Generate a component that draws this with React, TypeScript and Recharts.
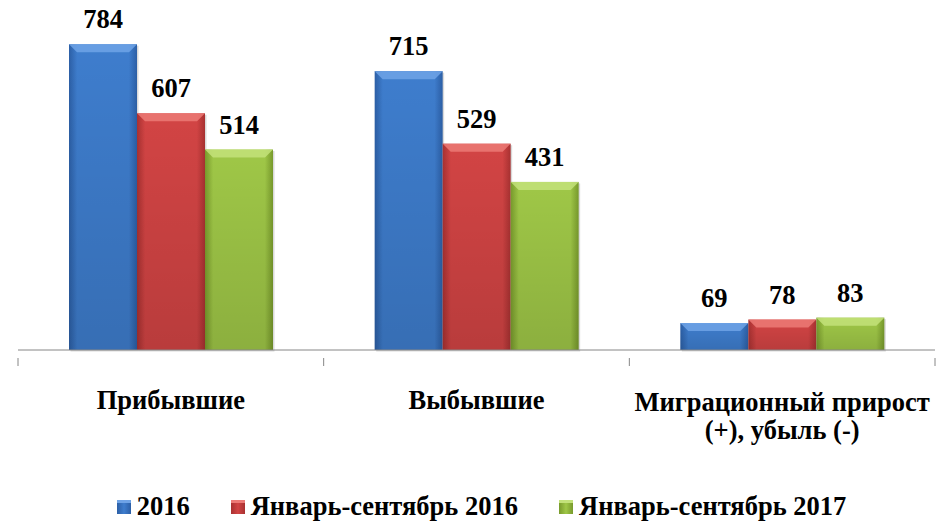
import React from 'react';
import { BarChart, Bar, XAxis, YAxis, Legend, LabelList } from 'recharts';

const categories = ['Прибывшие', 'Выбывшие', 'Миграционный прирост\n(+), убыль (-)'];
const series2016 = [784, 715, 69];
const seriesJanSep2016 = [607, 529, 78];
const seriesJanSep2017 = [514, 431, 83];
const seriesNames = ['2016', 'Январь-сентябрь 2016', 'Январь-сентябрь 2017'];

const data = categories.map((name, i) => ({
  name,
  a: series2016[i],
  b: seriesJanSep2016[i],
  c: seriesJanSep2017[i],
}));

const FONT = 'Liberation Serif, Times New Roman, serif';
const FS = 26.5;

const palette = [
  { id: 'gBlue', edge: '#2c5fa6', mid: '#3e7dcd', light: '#6ea3e6' },
  { id: 'gRed', edge: '#a83131', mid: '#d24444', light: '#ec7a76' },
  { id: 'gGreen', edge: '#789a2c', mid: '#9fc747', light: '#c3e27a' },
];

const makeShape = (p: typeof palette[number]) => (props: any) => {
  const { x, y, width, height } = props;
  if (!height || height <= 0) return <g />;
  const bevel = Math.min(8, height / 3);
  return (
    <g>
      <rect x={x + 1.5} y={y + 1.5} width={width} height={height} fill="rgba(0,0,0,0.15)" />
      <rect x={x} y={y} width={width} height={height} fill={`url(#${p.id})`} />
      <rect x={x} y={y} width={width} height={height} fill="url(#gShade)" />
      <polygon
        points={`${x},${y} ${x + width},${y} ${x + width - bevel},${y + bevel} ${x + bevel},${y + bevel}`}
        fill={p.light}
        opacity={0.85}
      />
    </g>
  );
};

// category label + tick marks at the category boundaries
const CategoryTick = (props: any) => {
  const { x, y, payload, width, visibleTicksCount, index } = props;
  const band = width / visibleTicksCount;
  const lines = String(payload.value).split('\n');
  return (
    <g>
      <line x1={x - band / 2} y1={y} x2={x - band / 2} y2={y + 8} stroke="#868686" />
      {index === visibleTicksCount - 1 && (
        <line x1={x + band / 2} y1={y} x2={x + band / 2} y2={y + 8} stroke="#868686" />
      )}
      <text x={x} y={y + (lines.length > 1 ? 53 : 51)} textAnchor="middle" fontFamily={FONT} fontWeight="bold" fontSize={FS} fill="#000">
        {lines.map((l, i) => (
          <tspan key={i} x={x} dy={i === 0 ? 0 : 28}>
            {l}
          </tspan>
        ))}
      </text>
    </g>
  );
};

const LegendContent = (props: any) => {
  const { payload } = props;
  return (
    <div
      style={{
        display: 'flex',
        justifyContent: 'center',
        gap: 41,
        fontFamily: FONT,
        fontWeight: 'bold',
        fontSize: FS,
        paddingLeft: 10,
        color: '#000',
      }}
    >
      {payload.map((entry: any, i: number) => (
        <div key={i} style={{ display: 'flex', alignItems: 'center', gap: 6 }}>
          <span
            style={{
              width: 14,
              height: 14,
              display: 'inline-block',
              background: `linear-gradient(90deg, ${palette[i].edge}, ${palette[i].mid} 50%, ${palette[i].edge})`,
              boxShadow: `inset 0 3px 0 ${palette[i].light}`,
            }}
          />
          <span>{seriesNames[i]}</span>
        </div>
      ))}
    </div>
  );
};

export default function App() {
  return (
    <div style={{ position: 'absolute', left: 0, top: 0, width: 944, height: 523, background: '#fff' }}>
      <BarChart
        width={944}
        height={523}
        data={data}
        margin={{ top: 38, right: 9, bottom: 0, left: 18 }}
        barCategoryGap={51}
        barGap={0}
      >
        <defs>
          {palette.map((p) => (
            <linearGradient key={p.id} id={p.id} x1="0" y1="0" x2="1" y2="0">
              <stop offset="0%" stopColor={p.edge} />
              <stop offset="12%" stopColor={p.mid} />
              <stop offset="88%" stopColor={p.mid} />
              <stop offset="100%" stopColor={p.edge} />
            </linearGradient>
          ))}
          <linearGradient id="gShade" x1="0" y1="0" x2="0" y2="1">
            <stop offset="0%" stopColor="#000" stopOpacity={0} />
            <stop offset="100%" stopColor="#000" stopOpacity={0.12} />
          </linearGradient>
        </defs>
        <XAxis
          dataKey="name"
          height={141}
          axisLine={{ stroke: '#868686' }}
          tickLine={false}
          tick={<CategoryTick />}
          interval={0}
        />
        <YAxis hide domain={[0, 800]} />
        <Legend verticalAlign="bottom" height={32} content={<LegendContent />} />
        <Bar dataKey="a" name={seriesNames[0]} shape={makeShape(palette[0])} isAnimationActive={false}>
          <LabelList dataKey="a" position="top" offset={16} fontFamily={FONT} fontWeight="bold" fontSize={FS} fill="#000" />
        </Bar>
        <Bar dataKey="b" name={seriesNames[1]} shape={makeShape(palette[1])} isAnimationActive={false}>
          <LabelList dataKey="b" position="top" offset={16} fontFamily={FONT} fontWeight="bold" fontSize={FS} fill="#000" />
        </Bar>
        <Bar dataKey="c" name={seriesNames[2]} shape={makeShape(palette[2])} isAnimationActive={false}>
          <LabelList dataKey="c" position="top" offset={16} fontFamily={FONT} fontWeight="bold" fontSize={FS} fill="#000" />
        </Bar>
      </BarChart>
    </div>
  );
}
